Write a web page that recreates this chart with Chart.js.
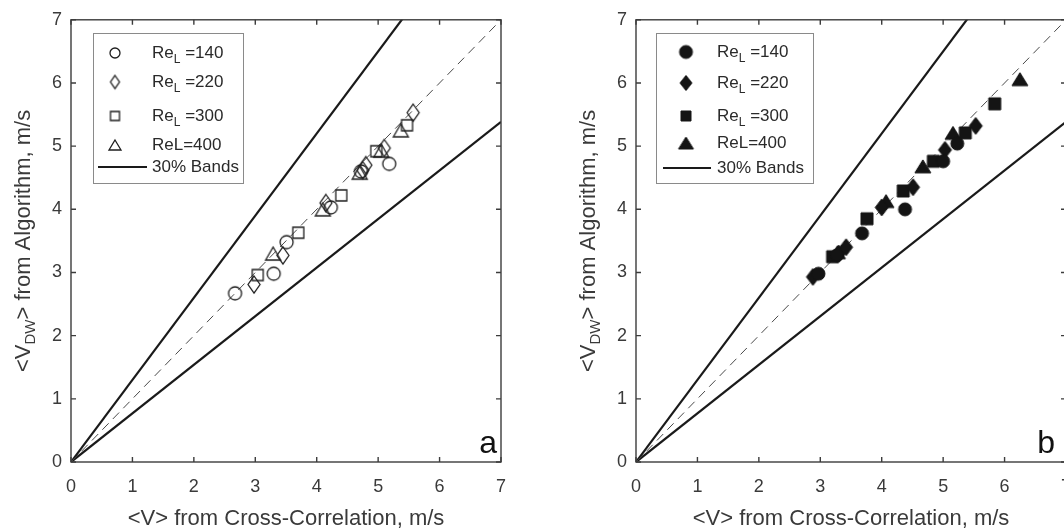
<!DOCTYPE html>
<html>
<head>
<meta charset="utf-8">
<script src="https://cdn.jsdelivr.net/npm/chart.js@4/dist/chart.umd.min.js"></script>
<style>
  html, body { margin: 0; padding: 0; background: #fff; overflow: hidden; }
  html { width: 1064px; height: 532px; }
  body { width: 1100px; height: 532px; position: relative; }
  .panel { position: absolute; top: 0; height: 532px; }
  #panelA { left: 0; width: 532px; }
  #panelB { left: 532px; width: 560px; }
</style>
</head>
<body>
<div class="panel" id="panelA"><canvas id="chartA" width="532" height="532"></canvas></div>
<div class="panel" id="panelB"><canvas id="chartB" width="560" height="532"></canvas></div>
<script>
const FONT = "'Liberation Sans', Arial, Helvetica, sans-serif";

// shared axis ticks and reference lines
const axisTicks = [0, 1, 2, 3, 4, 5, 6, 7];
const bandX = [0, 7];
const parityY = [0, 7];
const upperBandY = [0, 9.1];
const lowerBandY = [0, 5.385];

// panel a (open markers)
const a140x = [2.67, 3.30, 3.51, 4.23, 4.72, 5.18];
const a140y = [2.67, 2.98, 3.48, 4.03, 4.60, 4.72];
const a220x = [2.98, 3.45, 4.15, 4.75, 4.80, 5.10, 5.57];
const a220y = [2.81, 3.27, 4.10, 4.62, 4.70, 4.97, 5.53];
const a300x = [3.04, 3.70, 4.40, 4.97, 5.47];
const a300y = [2.96, 3.63, 4.22, 4.92, 5.33];
const a400x = [3.29, 4.10, 4.70, 5.05, 5.37];
const a400y = [3.30, 4.00, 4.58, 4.93, 5.25];

// panel b (filled markers)
const b140x = [2.97, 3.27, 3.68, 4.38, 5.00, 5.23];
const b140y = [2.98, 3.27, 3.62, 4.00, 4.76, 5.04];
const b220x = [2.88, 3.30, 3.42, 4.00, 4.51, 5.03, 5.53];
const b220y = [2.93, 3.30, 3.40, 4.03, 4.35, 4.94, 5.32];
const b300x = [3.20, 3.76, 4.35, 4.84, 5.36, 5.84];
const b300y = [3.25, 3.85, 4.29, 4.76, 5.21, 5.67];
const b400x = [3.28, 4.07, 4.67, 5.16, 6.25];
const b400y = [3.32, 4.13, 4.68, 5.21, 6.06];

const legendLabels = [
  ['Re', 'L', ' =140'],
  ['Re', 'L', ' =220'],
  ['Re', 'L', ' =300'],
  ['ReL=400', '', ''],
  ['30% Bands', '', ''],
];

function toPoints(xs, ys) {
  return xs.map((x, i) => ({ x, y: ys[i] }));
}

function marker(shape, w, h, filled, color, lw) {
  const c = document.createElement('canvas');
  c.width = Math.ceil(w + 4);
  c.height = Math.ceil(h + 4);
  const g = c.getContext('2d');
  const cx = c.width / 2;
  const cy = c.height / 2;
  g.beginPath();
  if (shape === 'circle') {
    g.ellipse(cx, cy, w / 2, h / 2, 0, 0, Math.PI * 2);
  } else if (shape === 'diamond') {
    g.moveTo(cx, cy - h / 2);
    g.lineTo(cx + w / 2, cy);
    g.lineTo(cx, cy + h / 2);
    g.lineTo(cx - w / 2, cy);
    g.closePath();
  } else if (shape === 'square') {
    g.rect(cx - w / 2, cy - h / 2, w, h);
  } else {
    g.moveTo(cx, cy - h / 2);
    g.lineTo(cx + w / 2, cy + h / 2);
    g.lineTo(cx - w / 2, cy + h / 2);
    g.closePath();
  }
  if (filled) {
    g.fillStyle = color;
    g.fill();
  }
  g.strokeStyle = color;
  g.lineWidth = lw;
  g.stroke();
  return c;
}

const OPEN = '#1e1e1e';
const FILL = '#141414';

const openMarkers = [
  marker('circle', 13, 13, false, OPEN, 1.3),
  marker('diamond', 12, 17, false, OPEN, 1.3),
  marker('square', 11, 11, false, OPEN, 1.3),
  marker('triangle', 15, 13, false, OPEN, 1.3),
];
const openLegend = [
  marker('circle', 10, 10, false, OPEN, 1.3),
  marker('diamond', 9, 13, false, OPEN, 1.3),
  marker('square', 9, 9, false, OPEN, 1.3),
  marker('triangle', 12, 10, false, OPEN, 1.3),
];
const filledMarkers = [
  marker('circle', 13, 13, true, FILL, 1),
  marker('diamond', 13, 17, true, FILL, 1),
  marker('square', 12, 12, true, FILL, 1),
  marker('triangle', 16, 13, true, FILL, 1),
];
const filledLegend = [
  marker('circle', 13, 13, true, FILL, 1),
  marker('diamond', 12, 15, true, FILL, 1),
  marker('square', 10, 10, true, FILL, 1),
  marker('triangle', 15, 12, true, FILL, 1),
];

const framePlugin = {
  id: 'frame',
  afterDatasetsDraw(chart, args, opts) {
    const { ctx, chartArea: area, scales } = chart;
    const { left, right, top, bottom } = area;

    // box and inward ticks
    ctx.save();
    ctx.strokeStyle = '#3c3c3c';
    ctx.lineWidth = 1.4;
    ctx.strokeRect(left, top, right - left, bottom - top);
    ctx.beginPath();
    axisTicks.forEach((v) => {
      const px = scales.x.getPixelForValue(v);
      const py = scales.y.getPixelForValue(v);
      ctx.moveTo(px, bottom); ctx.lineTo(px, bottom - 5);
      ctx.moveTo(px, top); ctx.lineTo(px, top + 5);
      ctx.moveTo(left, py); ctx.lineTo(left + 5, py);
      ctx.moveTo(right, py); ctx.lineTo(right - 5, py);
    });
    ctx.stroke();

    // y title with subscript
    ctx.translate(left - 41, (top + bottom) / 2);
    ctx.rotate(-Math.PI / 2);
    ctx.fillStyle = '#3a3a3a';
    ctx.textBaseline = 'alphabetic';
    ctx.textAlign = 'left';
    const big = `22px ${FONT}`;
    const small = `15px ${FONT}`;
    ctx.font = big;
    const w1 = ctx.measureText('<V').width;
    const w3 = ctx.measureText('> from Algorithm, m/s').width;
    ctx.font = small;
    const w2 = ctx.measureText('DW').width;
    const x0 = -(w1 + w2 + w3) / 2;
    ctx.font = big;
    ctx.fillText('<V', x0, 0);
    ctx.font = small;
    ctx.fillText('DW', x0 + w1, 5);
    ctx.font = big;
    ctx.fillText('> from Algorithm, m/s', x0 + w1 + w2, 0);
    ctx.restore();

    // panel letter
    ctx.save();
    ctx.fillStyle = '#111';
    ctx.font = `32px ${FONT}`;
    ctx.textAlign = 'right';
    ctx.textBaseline = 'alphabetic';
    ctx.fillText(opts.letter, right - opts.letterInset, bottom - 9);
    ctx.restore();

    // legend
    const lg = opts.legend;
    ctx.save();
    ctx.fillStyle = '#fff';
    ctx.fillRect(lg.x, lg.y, lg.w, lg.h);
    ctx.strokeStyle = '#8a8a8a';
    ctx.lineWidth = 1;
    ctx.strokeRect(lg.x + 0.5, lg.y + 0.5, lg.w, lg.h);
    legendLabels.forEach((parts, i) => {
      const ry = lg.rows[i];
      if (i < 4) {
        const img = lg.markers[i];
        ctx.drawImage(img, lg.markerX - img.width / 2, ry - img.height / 2);
      } else {
        ctx.strokeStyle = '#1a1a1a';
        ctx.lineWidth = 2;
        ctx.beginPath();
        ctx.moveTo(lg.lineX[0], ry);
        ctx.lineTo(lg.lineX[1], ry);
        ctx.stroke();
      }
      ctx.fillStyle = '#2a2a2a';
      ctx.textBaseline = 'middle';
      ctx.textAlign = 'left';
      ctx.font = `17px ${FONT}`;
      let tx = lg.textX;
      ctx.fillText(parts[0], tx, ry);
      tx += ctx.measureText(parts[0]).width;
      if (parts[1]) {
        ctx.font = `12px ${FONT}`;
        ctx.fillText(parts[1], tx, ry + 7);
        tx += ctx.measureText(parts[1]).width;
        ctx.font = `17px ${FONT}`;
        ctx.fillText(parts[2], tx, ry);
      }
    });
    ctx.restore();
  },
};

function buildChart(id, p) {
  const datasets = p.series.map((s, i) => ({
    data: toPoints(s[0], s[1]),
    pointStyle: p.markers[i],
    pointRadius: 7,
    pointHoverRadius: 7,
    borderWidth: 0,
  }));
  datasets.push(
    { data: toPoints(bandX, parityY), showLine: true, borderColor: '#4a4a4a', borderWidth: 1, borderDash: [9, 6], pointRadius: 0 },
    { data: toPoints(bandX, upperBandY), showLine: true, borderColor: '#1a1a1a', borderWidth: 2.2, pointRadius: 0 },
    { data: toPoints(bandX, lowerBandY), showLine: true, borderColor: '#1a1a1a', borderWidth: 2.2, pointRadius: 0 }
  );

  const tickFont = { family: FONT, size: 18 };
  const setTicks = (scale) => { scale.ticks = axisTicks.map((v) => ({ value: v })); };

  return new Chart(document.getElementById(id), {
    type: 'scatter',
    data: { datasets },
    plugins: [framePlugin],
    options: {
      responsive: false,
      animation: false,
      events: [],
      layout: { padding: { left: 0, right: p.padRight, top: 13, bottom: 0 } },
      scales: {
        x: {
          type: 'linear',
          min: 0,
          max: 7,
          afterBuildTicks: setTicks,
          afterFit: (s) => { s.height = 70; },
          grid: { display: false, drawTicks: false },
          border: { display: false },
          ticks: { color: '#3a3a3a', font: tickFont, padding: 14, maxRotation: 0, autoSkip: false },
          title: {
            display: true,
            text: '<V> from Cross-Correlation, m/s',
            color: '#3a3a3a',
            font: { family: FONT, size: 22 },
            padding: { top: 0, bottom: 0 },
          },
        },
        y: {
          type: 'linear',
          min: 0,
          max: 7,
          afterBuildTicks: setTicks,
          afterFit: (s) => { s.width = p.plotLeft; },
          grid: { display: false, drawTicks: false },
          border: { display: false },
          ticks: { color: '#3a3a3a', font: tickFont, padding: 9 },
        },
      },
      plugins: {
        legend: { display: false },
        tooltip: { enabled: false },
        frame: { letter: p.letter, letterInset: p.letterInset, legend: p.legend },
      },
    },
  });
}

buildChart('chartA', {
  series: [[a140x, a140y], [a220x, a220y], [a300x, a300y], [a400x, a400y]],
  markers: openMarkers,
  plotLeft: 71,
  padRight: 31,
  letter: 'a',
  letterInset: 4,
  legend: {
    x: 93, y: 33, w: 150, h: 150,
    markers: openLegend,
    markerX: 115,
    textX: 152,
    rows: [53, 82, 116, 145, 167],
    lineX: [98, 147],
  },
});

buildChart('chartB', {
  series: [[b140x, b140y], [b220x, b220y], [b300x, b300y], [b400x, b400y]],
  markers: filledMarkers,
  plotLeft: 104,
  padRight: 26,
  letter: 'b',
  letterInset: 11,
  legend: {
    x: 124, y: 33, w: 157, h: 150,
    markers: filledLegend,
    markerX: 154,
    textX: 185,
    rows: [52, 83, 116, 143, 168],
    lineX: [131, 179],
  },
});
</script>
</body>
</html>
